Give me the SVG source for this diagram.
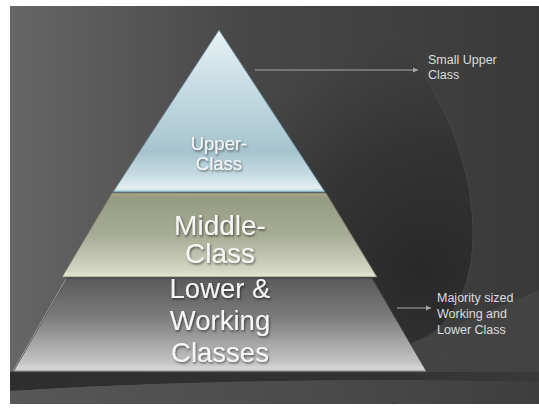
<svg xmlns="http://www.w3.org/2000/svg" width="539" height="414" viewBox="0 0 539 414">
  <defs>
    <linearGradient id="bgGrad" x1="10" y1="0" x2="539" y2="0" gradientUnits="userSpaceOnUse">
      <stop offset="0" stop-color="#666666"/>
      <stop offset="0.45" stop-color="#474747"/>
      <stop offset="1" stop-color="#393939"/>
    </linearGradient>
    <radialGradient id="darkCircle" cx="420" cy="270" r="230" gradientUnits="userSpaceOnUse">
      <stop offset="0" stop-color="#262626" stop-opacity="0.9"/>
      <stop offset="0.55" stop-color="#2a2a2a" stop-opacity="0.55"/>
      <stop offset="1" stop-color="#333333" stop-opacity="0"/>
    </radialGradient>
    <linearGradient id="stripGrad" x1="10" y1="0" x2="539" y2="0" gradientUnits="userSpaceOnUse">
      <stop offset="0" stop-color="#575757"/>
      <stop offset="0.6" stop-color="#4a4a4a"/>
      <stop offset="1" stop-color="#3e3e3e"/>
    </linearGradient>
    <linearGradient id="darkStripGrad" x1="10" y1="0" x2="539" y2="0" gradientUnits="userSpaceOnUse">
      <stop offset="0" stop-color="#2e2e2e"/>
      <stop offset="0.75" stop-color="#333333"/>
      <stop offset="1" stop-color="#3a3a3a"/>
    </linearGradient>
    <linearGradient id="upperGrad" x1="0" y1="30" x2="0" y2="193" gradientUnits="userSpaceOnUse">
      <stop offset="0" stop-color="#e8f2f4"/>
      <stop offset="0.35" stop-color="#c6dce3"/>
      <stop offset="0.75" stop-color="#a6c4cf"/>
      <stop offset="0.9" stop-color="#c9dde3"/>
      <stop offset="0.97" stop-color="#e6eff0"/>
      <stop offset="1" stop-color="#8cc4d4"/>
    </linearGradient>
    <linearGradient id="middleGrad" x1="0" y1="193" x2="0" y2="277" gradientUnits="userSpaceOnUse">
      <stop offset="0" stop-color="#b3a98c"/>
      <stop offset="0.05" stop-color="#959b82"/>
      <stop offset="0.5" stop-color="#a7ac95"/>
      <stop offset="0.92" stop-color="#d2d6c3"/>
      <stop offset="1" stop-color="#e4e6d6"/>
    </linearGradient>
    <linearGradient id="lowerGrad" x1="0" y1="278" x2="0" y2="372" gradientUnits="userSpaceOnUse">
      <stop offset="0" stop-color="#5a5a5a"/>
      <stop offset="0.4" stop-color="#7a7a7a"/>
      <stop offset="0.9" stop-color="#c4c4c4"/>
      <stop offset="0.97" stop-color="#d8d8d8"/>
      <stop offset="1" stop-color="#8a8a8a"/>
    </linearGradient>
    <filter id="shadow" x="-20%" y="-20%" width="140%" height="140%">
      <feDropShadow dx="1" dy="1.5" stdDeviation="1" flood-color="#000000" flood-opacity="0.55"/>
    </filter>
    <marker id="arrow" markerWidth="6" markerHeight="6" refX="5" refY="3" orient="auto" markerUnits="userSpaceOnUse">
      <path d="M0,0.5 L5,3 L0,5.5 Z" fill="#a8a8a8"/>
    </marker>
    <style>
      .big { font-family: "Liberation Sans", Arial, sans-serif; fill: #f6f6f6; text-anchor: middle; filter: url(#shadow); }
      .side { font-family: "Liberation Sans", Arial, sans-serif; fill: #dcdcdc; font-size: 12.5px; }
      .conn { stroke: #a8a8a8; stroke-width: 1.2; fill: none; marker-end: url(#arrow); }
      .edge { fill: none; stroke-width: 1; }
    </style>
  </defs>

  <!-- background -->
  <rect x="0" y="0" width="539" height="414" fill="#ffffff"/>
  <rect x="10" y="6" width="529" height="398" fill="url(#bgGrad)"/>
  <path d="M375,6 C420,60 472,140 473,230 C474,290 450,330 413,343 L240,404 L240,6 Z" fill="url(#darkCircle)"/>
  <path d="M413,343 L539,290 L539,404 L380,404 Z" fill="#434343"/>
  <path d="M375,6 C420,60 472,140 473,230 C474,290 450,330 413,343" class="edge" stroke="#454545"/>
  <path d="M453,338 C440,365 420,390 393,404" class="edge" stroke="#4a4a4a"/>
  <path d="M10,372 L539,372 L539,382 C300,377 120,384 10,391 Z" fill="url(#darkStripGrad)"/>
  <path d="M10,391 C120,384 300,377 539,382 L539,404 L10,404 Z" fill="url(#stripGrad)"/>

  <!-- pyramid bands -->
  <g id="node-lower">
    <polygon points="67,278 372,278 427,372 13,372" fill="url(#lowerGrad)" stroke="#3e3e3e" stroke-width="1"/>
    <line x1="66" y1="279" x2="13" y2="371" stroke="#a0a0a0" stroke-width="1"/>
    <text class="big" font-size="27.5" x="220" y="298">Lower &amp;</text>
    <text class="big" font-size="27.5" x="220" y="330">Working</text>
    <text class="big" font-size="27.5" x="220" y="362">Classes</text>
  </g>
  <g id="node-middle">
    <polygon points="112,193 326,193 377,277 62,277" fill="url(#middleGrad)" stroke="#6d705f" stroke-width="0.8"/>
    <text class="big" font-size="28" x="220" y="235">Middle-</text>
    <text class="big" font-size="28" x="220" y="263">Class</text>
  </g>
  <g id="node-upper">
    <polygon points="219,30 325,192 113,192" fill="url(#upperGrad)" stroke="#5f8590" stroke-width="0.8"/>
    <text class="big" font-size="18.5" x="219" y="150">Upper-</text>
    <text class="big" font-size="18.5" x="219" y="170">Class</text>
  </g>

  <!-- side labels -->
  <g id="label-small-upper">
    <text class="side" x="428" y="64">Small Upper</text>
    <text class="side" x="428" y="79">Class</text>
  </g>
  <g id="label-majority">
    <text class="side" x="437" y="302">Majority sized</text>
    <text class="side" x="437" y="318">Working and</text>
    <text class="side" x="437" y="334">Lower Class</text>
  </g>

  <!-- connectors -->
  <g id="connectors">
    <line class="conn" x1="255" y1="70" x2="418" y2="70"/>
    <line class="conn" x1="397" y1="308" x2="431" y2="308"/>
  </g>
</svg>
